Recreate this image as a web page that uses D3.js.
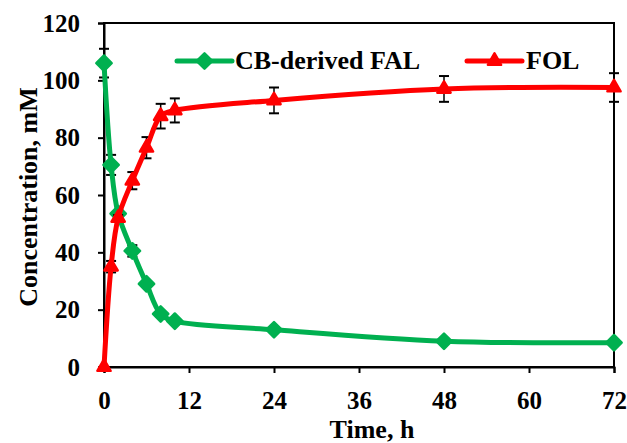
<!DOCTYPE html>
<html><head><meta charset="utf-8">
<script src="https://cdn.jsdelivr.net/npm/d3@7"></script>
<style>body{margin:0;background:#fff}svg{display:block}text{font-family:"Liberation Serif","Times New Roman",serif;font-weight:bold;fill:#000}</style>
</head><body><svg id="c" width="627" height="443"></svg>
<script>
const time = [0, 1, 2, 4, 6, 8, 10, 24, 48, 72];
const falValues = [106, 70.5, 53.5, 40.5, 29, 18.5, 16, 13, 9, 8.5];
const falErrors = [5, 3.5, 1, 2, 1, 1, 1, 1, 1, 1];
const folValues = [0, 35, 52, 65, 76.5, 87.5, 89.5, 93, 97, 97.5];
const folErrors = [0, 2, 1, 3, 3.7, 4.3, 4.2, 4.5, 4.5, 5];
const xTicks = [0, 12, 24, 36, 48, 60, 72];
const yTicks = [0, 20, 40, 60, 80, 100, 120];
const seriesNames = ["CB-derived FAL", "FOL"];
const colors = ["#00b050", "#ff0000"];

const svg = d3.select("#c");
const L = 104, R = 614, T = 23, B = 367;
const x = d3.scaleLinear().domain([0, 72]).range([L, R]);
const y = d3.scaleLinear().domain([0, 120]).range([B, T]);

svg.append("rect").attr("x", L).attr("y", T).attr("width", R - L).attr("height", B - T)
  .attr("fill", "none").attr("stroke", "#000").attr("stroke-width", 2);

const yAxis = svg.append("g").attr("transform", `translate(${L},0)`)
  .call(d3.axisLeft(y).tickValues(yTicks).tickSize(6).tickPadding(18));
const xAxis = svg.append("g").attr("transform", `translate(0,${B})`)
  .call(d3.axisBottom(x).tickValues(xTicks).tickSize(6).tickPadding(18));
[xAxis, yAxis].forEach(a => {
  a.select(".domain").attr("stroke", "#000").attr("stroke-width", 2);
  a.selectAll(".tick line").attr("stroke", "#000").attr("stroke-width", 2);
  a.selectAll("text").attr("font-size", 25).style("font-family", '"Liberation Serif",serif').style("font-weight", "bold");
});

svg.append("text").attr("transform", "translate(37,197) rotate(-90)").attr("text-anchor", "middle")
  .attr("font-size", 26).text("Concentration, mM");
svg.append("text").attr("x", 372).attr("y", 438).attr("text-anchor", "middle")
  .attr("font-size", 26).text("Time, h");

const line = d3.line().x(d => x(d[0])).y(d => y(d[1])).curve(d3.curveCatmullRom.alpha(0.5));
const diamond = d3.symbol().type(d3.symbolDiamond2).size(150);
const tri = d3.symbol().type(d3.symbolTriangle2).size(125);

function drawSeries(vals, errs, color, sym) {
  const data = time.map((t, i) => [t, vals[i], errs[i]]);
  const g = svg.append("g");
  data.forEach(d => {
    if (d[2] <= 0) return;
    const xc = x(d[0]), y1 = y(d[1] + d[2]), y2 = y(d[1] - d[2]);
    g.append("line").attr("x1", xc).attr("x2", xc).attr("y1", y1).attr("y2", y2).attr("stroke", "#000").attr("stroke-width", 1.5);
    [y1, y2].forEach(yy => g.append("line").attr("x1", xc - 5).attr("x2", xc + 5).attr("y1", yy).attr("y2", yy).attr("stroke", "#000").attr("stroke-width", 2));
  });
  g.append("path").datum(data).attr("d", line).attr("fill", "none").attr("stroke", color).attr("stroke-width", 5).attr("stroke-linejoin", "round");
  g.selectAll(".m").data(data).join("path").attr("d", sym)
    .attr("transform", d => `translate(${x(d[0])},${y(d[1])})`).attr("fill", color).attr("stroke", color).attr("stroke-width", 2.5).attr("stroke-linejoin", "round");
}
drawSeries(falValues, falErrors, colors[0], diamond);
drawSeries(folValues, folErrors, colors[1], tri);

const leg = [{x0: 177, x1: 232, tx: 235}, {x0: 467, x1: 522, tx: 526}];
seriesNames.forEach((n, i) => {
  const ly = 61;
  svg.append("line").attr("x1", leg[i].x0).attr("x2", leg[i].x1).attr("y1", ly).attr("y2", ly).attr("stroke", colors[i]).attr("stroke-width", 5).attr("stroke-linecap", "round");
  svg.append("path").attr("d", i === 0 ? diamond : tri).attr("transform", `translate(${(leg[i].x0 + leg[i].x1) / 2},${ly})`)
    .attr("fill", colors[i]).attr("stroke", colors[i]).attr("stroke-width", 2.5).attr("stroke-linejoin", "round");
  svg.append("text").attr("x", leg[i].tx).attr("y", 69).attr("font-size", 26).text(n);
});
</script></body></html>
